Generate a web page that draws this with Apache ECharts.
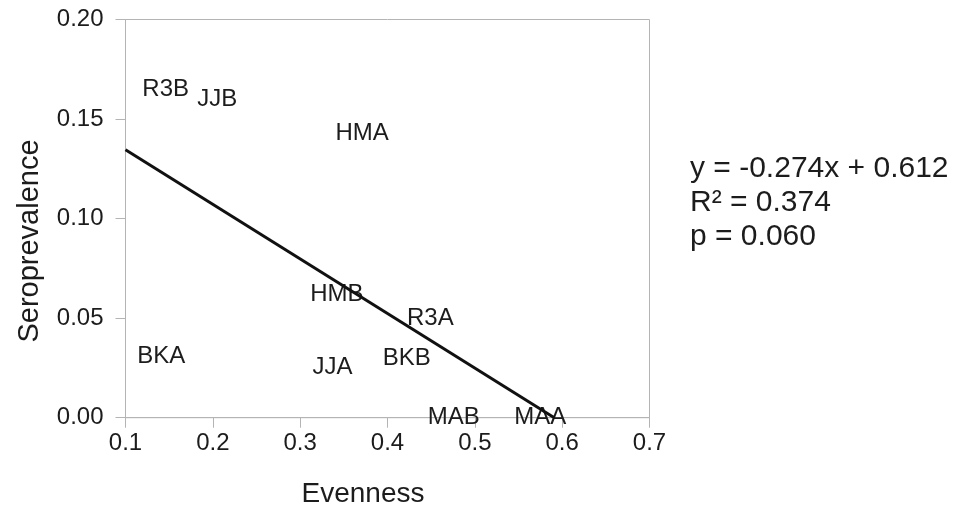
<!DOCTYPE html>
<html>
<head>
<meta charset="utf-8">
<script src="https://cdn.jsdelivr.net/npm/echarts@6/dist/echarts.min.js"></script>
<style>
  html, body { margin: 0; padding: 0; background: #fff; }
  #chart { width: 968px; height: 518px; }
</style>
</head>
<body>
<div id="chart"></div>
<script>
// Site codes and their measured values
const sites = ['R3B', 'JJB', 'HMA', 'HMB', 'R3A', 'BKB', 'JJA', 'BKA', 'MAB', 'MAA'];
const evenness = [0.146, 0.205, 0.371, 0.342, 0.449, 0.422, 0.337, 0.141, 0.476, 0.575];
const seroprevalence = [0.165, 0.160, 0.143, 0.062, 0.050, 0.030, 0.0255, 0.031, 0.0, 0.0];

// Fitted regression line endpoints (x, y)
const fitX = [0.1, 0.591];
const fitY = [0.1346, 0.0];

// Axis ticks
const xTicks = [0.1, 0.2, 0.3, 0.4, 0.5, 0.6, 0.7];
const yTicks = [0.00, 0.05, 0.10, 0.15, 0.20];

const statsText = ['y = -0.274x + 0.612', 'R\u00B2 = 0.374', 'p = 0.060'];

const FONT = "'Liberation Sans', Arial, sans-serif";
const TEXT = '#1c1c1c';
const AXIS = '#b4b4b4';

const pointData = sites.map((s, i) => ({ name: s, value: [evenness[i], seroprevalence[i]] }));
const fitData = fitX.map((x, i) => [x, fitY[i]]);

const chart = echarts.init(document.getElementById('chart'), null, { renderer: 'canvas' });
chart.setOption({
  animation: false,
  backgroundColor: '#ffffff',
  textStyle: { fontFamily: FONT },
  grid: {
    left: 125.5, right: 318.5, top: 19.5, bottom: 100.3,
    containLabel: false, outerBoundsMode: 'none',
    show: true, borderColor: AXIS, borderWidth: 1, backgroundColor: 'transparent'
  },
  xAxis: {
    type: 'value',
    min: xTicks[0], max: xTicks[xTicks.length - 1], interval: 0.1,
    axisLine: { show: true, lineStyle: { color: AXIS, width: 1 } },
    axisTick: { show: true, length: 10, inside: false, lineStyle: { color: AXIS } },
    axisLabel: { fontSize: 24, color: TEXT, margin: 14, fontFamily: FONT,
      formatter: v => v.toFixed(1) },
    splitLine: { show: false }
  },
  yAxis: {
    type: 'value',
    min: yTicks[0], max: yTicks[yTicks.length - 1], interval: 0.05,
    axisLine: { show: true, lineStyle: { color: AXIS, width: 1 } },
    axisTick: { show: true, length: 10, inside: false, lineStyle: { color: AXIS } },
    axisLabel: { fontSize: 24, color: TEXT, margin: 22, fontFamily: FONT,
      formatter: v => v.toFixed(2) },
    splitLine: { show: false }
  },
  graphic: [
    {
      type: 'text',
      left: 690, top: 152,
      style: {
        text: statsText.join('\n'),
        font: "30px 'Liberation Sans', Arial, sans-serif",
        fill: TEXT,
        lineHeight: 34
      }
    },
    {
      type: 'text',
      x: 363, y: 494,
      style: {
        text: 'Evenness',
        font: "28px 'Liberation Sans', Arial, sans-serif",
        fill: TEXT, align: 'center', verticalAlign: 'middle'
      }
    },
    {
      type: 'text',
      x: 30, y: 241, rotation: Math.PI / 2,
      style: {
        text: 'Seroprevalence',
        font: "29px 'Liberation Sans', Arial, sans-serif",
        fill: TEXT, align: 'center', verticalAlign: 'middle'
      }
    }
  ],
  series: [
    {
      type: 'line',
      data: fitData,
      symbol: 'none',
      lineStyle: { color: '#111', width: 3 },
      z: 3
    },
    {
      type: 'scatter',
      data: pointData,
      symbolSize: 0,
      itemStyle: { color: TEXT, opacity: 1 },
      label: {
        show: true, position: 'inside',
        formatter: p => p.name,
        fontSize: 24, color: TEXT, fontFamily: FONT,
        textBorderWidth: 0, opacity: 1
      },
      z: 2
    }
  ]
});
</script>
</body>
</html>
